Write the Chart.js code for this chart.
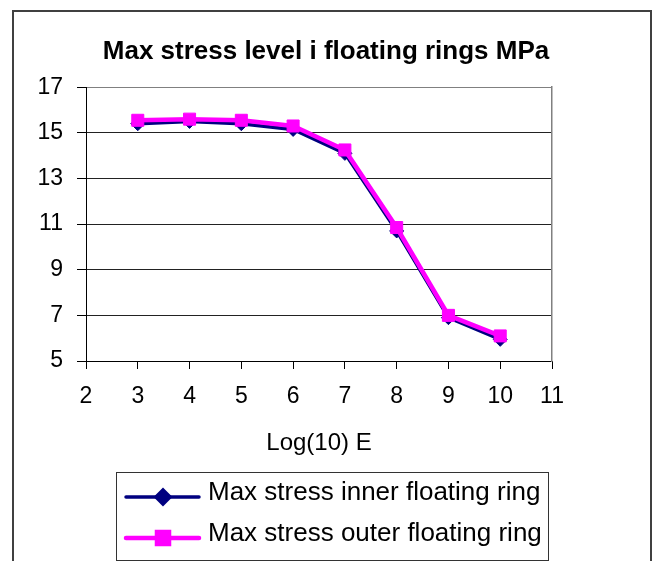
<!DOCTYPE html>
<html>
<head>
<meta charset="utf-8">
<script src="https://cdn.jsdelivr.net/npm/chart.js@4/dist/chart.umd.min.js"></script>
<style>
  html, body { margin: 0; padding: 0; background: #fff; }
  canvas { display: block; }
</style>
</head>
<body>
<canvas id="chart" width="652" height="561"></canvas>
<script>
// data
var logE = [3, 4, 5, 6, 7, 8, 9, 10];
var innerRing = [15.4, 15.5, 15.4, 15.15, 14.1, 10.7, 6.9, 5.95];
var outerRing = [15.55, 15.6, 15.55, 15.3, 14.25, 10.85, 7.0, 6.1];
var seriesNames = ['Max stress inner floating ring', 'Max stress outer floating ring'];
var chartTitle = 'Max stress level i floating rings MPa';
var xTitle = 'Log(10) E';

var FONT = "'Liberation Sans', Arial, sans-serif";

function points(xs, ys) {
    var out = [];
    for (var i = 0; i < xs.length; i++) {
        out.push({ x: xs[i], y: ys[i] });
    }
    return out;
}

// outer frame + white background
var framePlugin = {
    id: 'frame',
    beforeDraw: function (chart) {
        var ctx = chart.ctx;
        ctx.save();
        ctx.fillStyle = '#fff';
        ctx.fillRect(0, 0, chart.width, chart.height);
        ctx.strokeStyle = '#404040';
        ctx.lineWidth = 2;
        ctx.strokeRect(13, 11, 638, 580);
        ctx.restore();
    }
};

// boxed legend like the spreadsheet one
var boxLegend = {
    id: 'boxLegend',
    afterDraw: function (chart) {
        var ctx = chart.ctx;
        var sets = chart.data.datasets;
        var box = { x: 116, y: 472, w: 432, h: 88 };
        var rows = [497, 538];
        ctx.save();
        ctx.strokeStyle = '#333';
        ctx.lineWidth = 1;
        ctx.strokeRect(box.x + 0.5, box.y + 0.5, box.w, box.h);
        for (var i = 0; i < sets.length; i++) {
            var ds = sets[i];
            var y = rows[i];
            ctx.strokeStyle = ds.borderColor;
            ctx.lineWidth = ds.borderWidth;
            ctx.lineCap = 'round';
            ctx.beginPath();
            ctx.moveTo(126, y);
            ctx.lineTo(199, y);
            ctx.stroke();
            ctx.fillStyle = ds.backgroundColor;
            ctx.strokeStyle = ds.borderColor;
            Chart.helpers.drawPoint(ctx, {
                pointStyle: ds.pointStyle,
                radius: ds.pointRadius,
                rotation: 0,
                borderWidth: 1
            }, 163, y);
            ctx.fillStyle = '#000';
            ctx.font = '26px ' + FONT;
            ctx.textBaseline = 'middle';
            ctx.textAlign = 'left';
            ctx.fillText(ds.label, 208, y - 4);
        }
        ctx.restore();
    }
};

var ctx = document.getElementById('chart').getContext('2d');
var chart = new Chart(ctx, {
    type: 'line',
    data: {
        datasets: [{
            label: seriesNames[0],
            data: points(logE, innerRing),
            borderColor: '#000080',
            backgroundColor: '#000080',
            borderWidth: 3.5,
            pointStyle: 'rectRot',
            pointRadius: 7,
            pointBorderWidth: 1,
            order: 1
        }, {
            label: seriesNames[1],
            data: points(logE, outerRing),
            borderColor: '#ff00ff',
            backgroundColor: '#ff00ff',
            borderWidth: 4.5,
            pointStyle: 'rect',
            pointRadius: 8.5,
            pointBorderWidth: 1,
            order: 0
        }]
    },
    options: {
        responsive: false,
        animation: false,
        devicePixelRatio: 1,
        layout: { padding: { left: 0, right: 0, top: 0, bottom: 100 } },
        plugins: {
            legend: { display: false },
            tooltip: { enabled: false },
            title: {
                display: true,
                text: chartTitle,
                color: '#000',
                font: { family: FONT, size: 26, weight: 'bold', lineHeight: 1.2 },
                padding: { top: 36, bottom: 20 }
            }
        },
        scales: {
            x: {
                type: 'linear',
                position: 'bottom',
                min: 2,
                max: 11,
                afterFit: function (s) { s.height = 100; },
                ticks: {
                    stepSize: 1,
                    color: '#000',
                    padding: 14,
                    font: { family: FONT, size: 23 }
                },
                grid: {
                    drawOnChartArea: false,
                    drawTicks: true,
                    tickLength: 8,
                    color: '#000',
                    tickColor: '#000'
                },
                border: { color: '#000', width: 1 },
                title: {
                    display: true,
                    text: xTitle,
                    color: '#000',
                    font: { family: FONT, size: 24, lineHeight: 1.2 },
                    padding: { top: 0, bottom: 3 }
                }
            },
            y: {
                type: 'linear',
                position: 'left',
                min: 5,
                max: 17,
                afterFit: function (s) { s.width = 86; },
                ticks: {
                    stepSize: 2,
                    color: '#000',
                    padding: 14,
                    font: { family: FONT, size: 23 }
                },
                grid: {
                    drawTicks: true,
                    tickLength: 9,
                    tickColor: '#000',
                    color: function (c) {
                        return c.tick && c.tick.value === 17 ? '#808080' : '#222';
                    }
                },
                border: { color: '#000', width: 1 }
            },
            y2: {
                type: 'linear',
                position: 'right',
                min: 5,
                max: 17,
                afterFit: function (s) { s.width = 100; },
                ticks: { display: false },
                grid: { drawOnChartArea: false, drawTicks: false },
                border: { color: '#808080', width: 1.5 }
            }
        }
    },
    plugins: [framePlugin, boxLegend]
});
</script>
</body>
</html>
